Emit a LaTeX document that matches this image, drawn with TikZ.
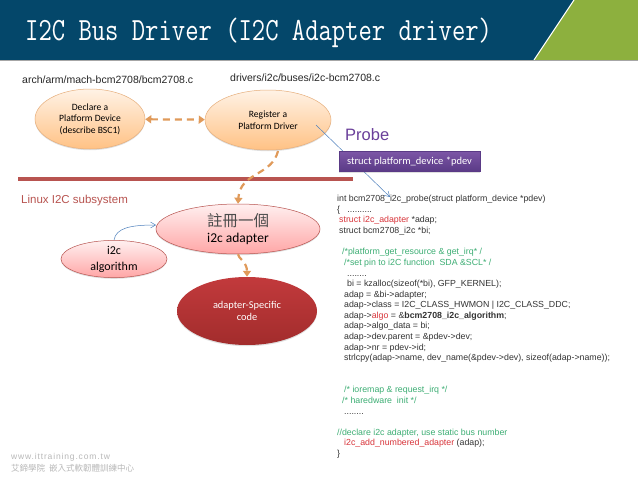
\documentclass[tikz,border=0pt]{standalone}
\usepackage{fontspec}
\setmainfont{Liberation Sans}
\newfontfamily\cjk{Noto Sans CJK TC}
\newfontfamily\carl{Carlito}
\usetikzlibrary{arrows.meta,shadows,shapes.geometric}
\definecolor{navy}{HTML}{04476A}
\definecolor{leaf}{HTML}{8DB03E}
\definecolor{orangeline}{HTML}{E09A5A}
\definecolor{bar}{HTML}{B85450}
\definecolor{arrowblue}{HTML}{4F81BD}
\definecolor{probe}{HTML}{6A3F9A}
\definecolor{boxtop}{HTML}{7C56A6}
\definecolor{boxbot}{HTML}{5A3A86}
\definecolor{cgreen}{HTML}{3DAE74}
\definecolor{cred}{HTML}{D8343A}
\definecolor{spectop}{HTML}{C23A3C}
\definecolor{specbot}{HTML}{A22C2C}
\tikzset{
 x=1pt,y=-1pt,
 softshadow/.style={drop shadow={shadow xshift=0pt,shadow yshift=-1.2pt,opacity=.25}},
 ell/.style={ellipse,draw,inner sep=0pt,align=center,font=\carl,text=black,line width=.5pt},
 orangeell/.style={ell,draw=orangeline!80!white,top color=orange!10!white,bottom color=orange!48!white,softshadow},
 pinkell/.style={ell,draw=bar,top color=red!6!white,bottom color=red!35!white,softshadow},
 redell/.style={ell,draw=none,top color=spectop,bottom color=specbot,text=white,softshadow},
 dashconn/.style={draw=orangeline,line width=2.2pt,dash pattern=on 7pt off 5pt,-{Triangle[length=6pt,width=8pt]}},
 dashboth/.style={dashconn,{Triangle[length=6pt,width=8pt]}-{Triangle[length=6pt,width=8pt]}},
 thinconn/.style={draw=arrowblue,line width=.5pt,-{Straight Barb[length=5pt,width=6pt]}},
 pathtxt/.style={anchor=base west,font=\fontsize{10.5}{12}\selectfont,text=black!85,inner sep=0pt},
 code/.style={anchor=base west,font=\fontsize{8.8}{10}\selectfont,text=black!80,inner sep=0pt},
 codeg/.style={code,text=cgreen},
}
\begin{document}
\begin{tikzpicture}
\useasboundingbox (0,0) rectangle (638,479);
\fill[white] (0,0) rectangle (638,479);
\fill[navy] (0,0) rectangle (638,60);
\fill[leaf] (534,60) -- (574,0) -- (638,0) -- (638,60) -- cycle;
\draw[white,line width=1pt] (534,60) -- (574,0);
\draw[black!35,line width=.6pt] (0,60.5) -- (638,60.5);
\node[anchor=base west,inner sep=0pt,text=white] (title) at (25,40) {\scalebox{1}[1.25]{\fontsize{25.9}{30}\selectfont\ttfamily\addfontfeatures{FakeBold=1.3}I2C Bus Driver (I2C Adapter driver)}};

\node[pathtxt] (p1) at (22,83) {arch/arm/mach-bcm2708/bcm2708.c};
\node[pathtxt] (p2) at (230,81) {drivers/i2c/buses/i2c-bcm2708.c};

\node[orangeell,minimum width=110pt,minimum height=60pt,font=\carl\fontsize{9.6}{11.5}\selectfont] (dev) at (90,119) {Declare a\\Platform Device\\(describe BSC1)};
\node[orangeell,minimum width=126pt,minimum height=60pt,font=\carl\fontsize{9.6}{11.5}\selectfont] (drv) at (268,120) {Register a\\Platform Driver};

\draw[dashboth] (dev) -- (drv);

\fill[bar] (18,177) rectangle (353,180.5);
\node[anchor=base west,inner sep=0pt,text=bar,font=\fontsize{11.5}{13}\selectfont] (linux) at (21,203) {Linux I2C subsystem};

\coordinate (arrowstart) at (316,125);
\coordinate (arrowend) at (390,197);
\draw[thinconn] (arrowstart) -- (arrowend);

\node[anchor=base west,inner sep=0pt,text=probe,font=\fontsize{16.5}{19}\selectfont] (probe) at (345,140) {Probe};
\node[draw=boxbot,top color=boxtop,bottom color=boxbot,text=white,font=\carl\fontsize{10.5}{12}\selectfont,minimum width=141pt,minimum height=20pt,inner sep=0pt,softshadow] (pdev) at (409.5,161.5) {struct platform\_device *pdev};

\node[pinkell,minimum width=164pt,minimum height=50pt] (adapter) at (238,229) {{\cjk\color{black!70}\fontsize{15.5}{17}\selectfont 註冊一個}\\[4pt]{\carl\fontsize{13.5}{14}\selectfont i2c adapter}};
\node[pinkell,minimum width=106pt,minimum height=37pt,font=\carl\fontsize{12}{16}\selectfont] (algo) at (114,259) {i2c\\algorithm};
\node[redell,minimum width=140pt,minimum height=68pt,font=\carl\fontsize{10.4}{12}\selectfont] (spec) at (247,311) {adapter-Specific\\code};

\coordinate (c1) at (278,151);
\coordinate (algoend) at (156,225);
\draw[dashconn] (c1) .. controls (272,176) and (240,172) .. (adapter.north);
\draw[dashconn] (adapter.south) .. controls (238,258) and (247,262) .. (spec.north);
\draw[thinconn] (algo.north) .. controls (116,228) and (130,225) .. (algoend);

\node[code] (c01) at (337,201) {int bcm2708\_i2c\_probe(struct platform\_device *pdev)};
\node[code] (c02) at (337,212) {\{ \ \ ..........};
\node[code,text=cred] (c03) at (339,222.5) {struct i2c\_adapter \textcolor{black!80}{*adap;}};
\node[code] (c04) at (339,233.5) {struct bcm2708\_i2c *bi;};
\node[codeg] (c05) at (342,254) {/*platform\_get\_resource \& get\_irq* /};
\node[codeg] (c06) at (344,265) {/*set pin to i2C function \ SDA \&SCL* /};
\node[code] (c07) at (347,276) {........};
\node[code] (c08) at (347,286) {bi = kzalloc(sizeof(*bi), GFP\_KERNEL);};
\node[code] (c09) at (344,297) {adap = \&bi->adapter;};
\node[code] (c10) at (344,307.5) {adap->class = I2C\_CLASS\_HWMON | I2C\_CLASS\_DDC;};
\node[code] (c11) at (344,318) {adap->\textcolor{cred}{algo} = \&\textbf{bcm2708\_i2c\_algorithm};};
\node[code] (c12) at (344,328.5) {adap->algo\_data = bi;};
\node[code] (c13) at (344,339) {adap->dev.parent = \&pdev->dev;};
\node[code] (c14) at (344,350) {adap->nr = pdev->id;};
\node[code] (c15) at (344,360) {strlcpy(adap->name, dev\_name(\&pdev->dev), sizeof(adap->name));};
\node[codeg] (c16) at (344,392) {/* ioremap \& request\_irq */};
\node[codeg] (c17) at (342,403) {/* haredware \ init */};
\node[code] (c18) at (344,414) {........};
\node[codeg] (c19) at (337,435) {//declare i2c adapter, use static bus number};
\node[code] (c20) at (344,445.5) {\textcolor{cred}{i2c\_add\_numbered\_adapter} (adap);};
\node[code] (c21) at (337,456) {\}};

\node[anchor=base west,inner sep=0pt,text=black!28,font=\fontsize{8.5}{10}\selectfont\addfontfeatures{LetterSpace=10}] (www) at (11,459) {www.ittraining.com.tw};
\node[anchor=base west,inner sep=0pt,text=black!28,font=\cjk\fontsize{8.5}{10}\selectfont] (cn) at (11,471) {艾鍗學院 \ 嵌入式軟韌體訓練中心};
\end{tikzpicture}
\end{document}
